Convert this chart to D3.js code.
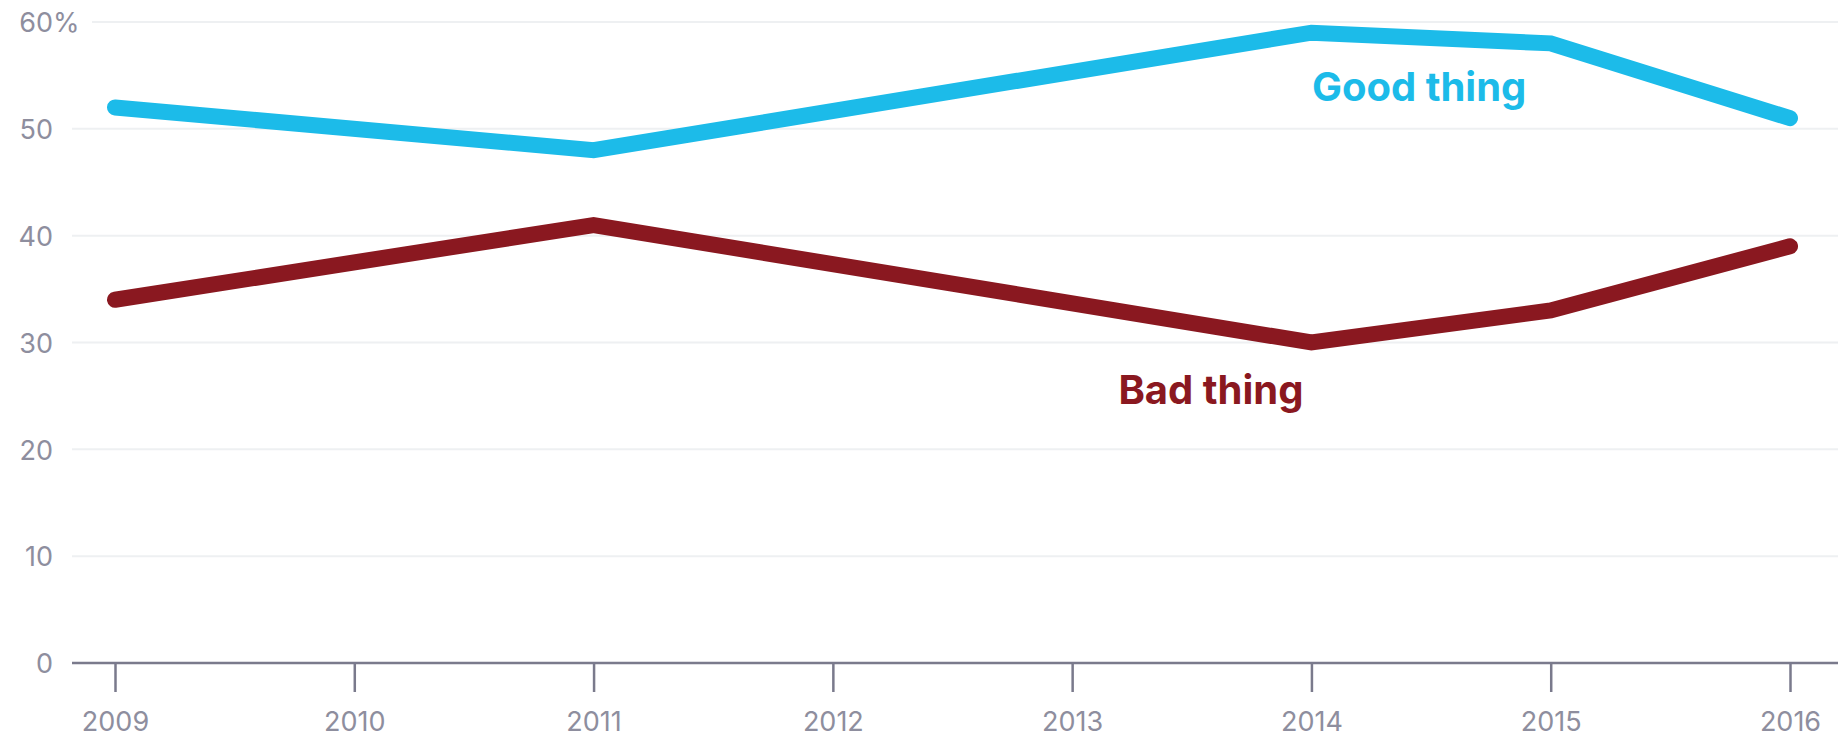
<!DOCTYPE html>
<html>

<head>
    <meta charset="utf-8">
    <title>Good thing / Bad thing</title>
    <script type="text/javascript" src="https://d3js.org/d3.v7.min.js"></script>

    <style>
        body {
            margin: 0;
            background: #fff;
        }

        svg {
            display: block;
        }

        .grid line {
            stroke: #eef0f2;
            stroke-width: 2;
        }
    </style>

</head>

<body>
</body>

<script type="text/javascript">
    //Width and height
    var w = 1847;
    var h = 739;
    var font = "Inter, 'Liberation Sans', sans-serif";

    //Data
    var years = [2009, 2010, 2011, 2012, 2013, 2014, 2015, 2016];
    var yTicks = [0, 10, 20, 30, 40, 50, 60];
    var goodYears = [2009, 2011, 2014, 2015, 2016];
    var goodValues = [52, 48, 59, 58, 51];
    var badYears = [2009, 2011, 2014, 2015, 2016];
    var badValues = [34, 41, 30, 33, 39];

    //Series labels, placed in data units
    var labelNames = ["Good thing", "Bad thing"];
    var labelYears = [2014.45, 2013.58];
    var labelValues = [52.6, 24.2];
    var colors = ["#1cbbe9", "#8a1820"];

    var x = d3.scaleLinear().domain([2009, 2016]).range([115, 1790]);
    var y = d3.scaleLinear().domain([0, 60]).range([663, 22]);

    var svg = d3.select("body")
        .append("svg")
        .attr("width", w)
        .attr("height", h);

    //Horizontal gridlines
    var grid = svg.append("g").attr("class", "grid");
    grid.selectAll("line")
        .data(yTicks.filter(function(d) { return d > 0; }))
        .enter()
        .append("line")
        .attr("x1", function(d) { return d === 60 ? 92 : 72; })
        .attr("x2", 1838)
        .attr("y1", function(d) { return y(d); })
        .attr("y2", function(d) { return y(d); });

    //Y axis labels (no line, just text)
    var yAxis = svg.append("g")
        .attr("transform", "translate(53,0)")
        .call(d3.axisLeft(y).tickValues(yTicks).tickSize(0).tickPadding(0)
            .tickFormat(function(d) { return d === 60 ? "60%" : d; }));
    yAxis.attr("font-family", font).attr("font-size", 27);
    yAxis.select(".domain").remove();
    yAxis.selectAll(".tick text").attr("dy", "0.36em").attr("fill", "#8e8e9e");

    //Keep the "60" digits aligned with the other labels, let "%" hang right
    var pct = yAxis.selectAll(".tick text").filter(function(d) { return d === 60; });
    var full = pct.node().getComputedTextLength();
    pct.text("60");
    var digits = pct.node().getComputedTextLength();
    pct.text("60%").attr("x", full - digits);

    //X axis
    var xAxis = svg.append("g")
        .attr("transform", "translate(0," + y(0) + ")")
        .call(d3.axisBottom(x).tickValues(years).tickFormat(d3.format("d"))
            .tickSize(29).tickSizeOuter(0).tickPadding(20));
    xAxis.attr("font-family", font).attr("font-size", 27);
    xAxis.selectAll(".tick text").attr("fill", "#8e8e9e");
    xAxis.select(".domain")
        .attr("d", "M72,0H1838")
        .attr("stroke", "#7a7a8c")
        .attr("stroke-width", 2.5);
    xAxis.selectAll(".tick line")
        .attr("stroke", "#7a7a8c")
        .attr("stroke-width", 2.5);

    //Lines
    var line = d3.line()
        .x(function(d) { return x(d[0]); })
        .y(function(d) { return y(d[1]); });

    var series = [d3.zip(goodYears, goodValues), d3.zip(badYears, badValues)];

    svg.selectAll("path.series")
        .data(series)
        .enter()
        .append("path")
        .attr("class", "series")
        .attr("d", line)
        .attr("fill", "none")
        .attr("stroke", function(d, i) { return colors[i]; })
        .attr("stroke-width", 16)
        .attr("stroke-linecap", "round")
        .attr("stroke-linejoin", "miter");

    //Series labels
    svg.selectAll("text.label")
        .data(labelNames)
        .enter()
        .append("text")
        .attr("class", "label")
        .attr("x", function(d, i) { return x(labelYears[i]); })
        .attr("y", function(d, i) { return y(labelValues[i]); })
        .attr("text-anchor", "middle")
        .attr("fill", function(d, i) { return colors[i]; })
        .style("font-family", font)
        .style("font-size", "40px")
        .style("font-weight", 700)
        .text(function(d) { return d; });
</script>

</html>
